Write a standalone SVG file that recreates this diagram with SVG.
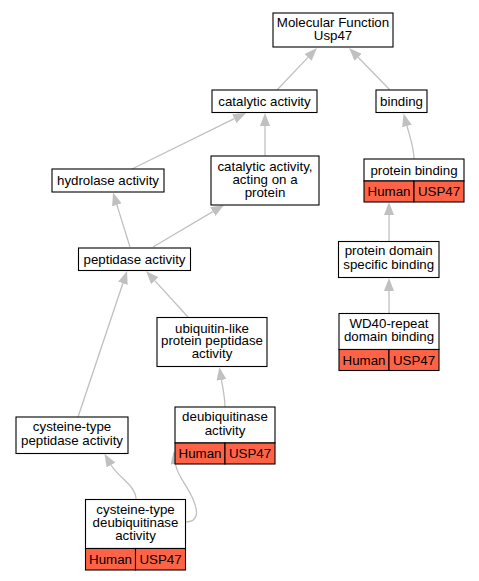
<svg xmlns="http://www.w3.org/2000/svg" width="479" height="581" viewBox="0 0 479 581">
<style>
.n rect{fill:#ffffff;stroke:#000000;stroke-width:1.1}
.n rect.h{fill:#ff6347}
text{font-family:"Liberation Sans",Arial,sans-serif;font-size:13.3px;text-anchor:middle;fill:#000000}
.e path{fill:none;stroke:#c0c0c0;stroke-width:1.3;marker-end:url(#arr)}
</style>
<defs>
<marker id="arr" markerUnits="userSpaceOnUse" markerWidth="14" markerHeight="10" refX="0" refY="5" orient="auto" viewBox="0 0 14 10">
<path d="M0,0 L13,5 L0,10 z" fill="#c0c0c0" stroke="none"/>
</marker>
</defs>
<rect width="479" height="581" fill="#ffffff"/>
<g id="edges" class="e">
<path d="M277,90 L308,57.4"/>
<path d="M390,90 L358.1,57.3"/>
<path d="M132,169 L234.3,118.7"/>
<path d="M265,155.5 L265,126"/>
<path d="M414,159 C414,148 410,137 407,126"/>
<path d="M130,247 L116.9,204.9"/>
<path d="M153,247 L212.8,211.6"/>
<path d="M389,241 L389,215"/>
<path d="M389,313 L389,291"/>
<path d="M188,317 L154.8,280.6"/>
<path d="M78,417 L122.9,283.3"/>
<path d="M225,407 C225,398 223,389 221.5,380"/>
<path d="M136,499 C136,486 118,477 111,465"/>
<path d="M185,522 C200,522 198,510 192,497 C186,484 177,475 175.5,464"/>
</g>
<g id="n_mf" class="n">
<rect x="273" y="13" width="120" height="34"/>
<text x="333" y="26.5">Molecular Function</text>
<text x="333" y="40">Usp47</text>
</g>
<g id="n_catalytic" class="n">
<rect x="212" y="90" width="105" height="22.5"/>
<text x="264.5" y="105.7">catalytic activity</text>
</g>
<g id="n_binding" class="n">
<rect x="376" y="90" width="51" height="22.5"/>
<text x="401.5" y="105.7">binding</text>
</g>
<g id="n_hydrolase" class="n">
<rect x="52" y="169" width="112" height="23"/>
<text x="108" y="185">hydrolase activity</text>
</g>
<g id="n_cat_protein" class="n">
<rect x="211" y="156" width="108" height="49"/>
<text x="265" y="171">catalytic activity,</text>
<text x="265" y="183.8">acting on a</text>
<text x="265" y="196.5">protein</text>
</g>
<g id="n_protein_binding" class="n">
<rect x="364" y="159" width="100" height="22"/>
<rect class="h" x="364" y="181" width="50" height="21"/>
<rect class="h" x="414" y="181" width="50" height="21"/>
<text x="414" y="174.5">protein binding</text>
<text x="389" y="196">Human</text>
<text x="439" y="196">USP47</text>
</g>
<g id="n_peptidase" class="n">
<rect x="78.5" y="248" width="112" height="22.5"/>
<text x="134.5" y="263.7">peptidase activity</text>
</g>
<g id="n_domain" class="n">
<rect x="338.5" y="241.5" width="100.5" height="36"/>
<text x="388.7" y="255">protein domain</text>
<text x="388.7" y="268.8">specific binding</text>
</g>
<g id="n_ubl" class="n">
<rect x="157" y="317.5" width="110" height="49"/>
<text x="212" y="332.5">ubiquitin-like</text>
<text x="212" y="345.3">protein peptidase</text>
<text x="212" y="358">activity</text>
</g>
<g id="n_wd40" class="n">
<rect x="339" y="313.5" width="100" height="36"/>
<rect class="h" x="339" y="349.5" width="50" height="21"/>
<rect class="h" x="389" y="349.5" width="50" height="21"/>
<text x="389" y="327.5">WD40-repeat</text>
<text x="389" y="341">domain binding</text>
<text x="364" y="364.5">Human</text>
<text x="414" y="364.5">USP47</text>
</g>
<g id="n_cys_pep" class="n">
<rect x="16" y="417" width="112" height="36.5"/>
<text x="72" y="431">cysteine-type</text>
<text x="72" y="444.7">peptidase activity</text>
</g>
<g id="n_deub" class="n">
<rect x="175" y="407" width="100" height="36"/>
<rect class="h" x="175" y="443" width="50" height="21"/>
<rect class="h" x="225" y="443" width="50" height="21"/>
<text x="225" y="421">deubiquitinase</text>
<text x="225" y="434.5">activity</text>
<text x="200" y="458">Human</text>
<text x="250" y="458">USP47</text>
</g>
<g id="n_cys_deub" class="n">
<rect x="85.5" y="499.5" width="100" height="49"/>
<rect class="h" x="85.5" y="548.5" width="50" height="21.5"/>
<rect class="h" x="135.5" y="548.5" width="50" height="21.5"/>
<text x="135.5" y="513.5">cysteine-type</text>
<text x="135.5" y="526.8">deubiquitinase</text>
<text x="135.5" y="540">activity</text>
<text x="110.5" y="563.5">Human</text>
<text x="160.5" y="563.5">USP47</text>
</g>
</svg>
